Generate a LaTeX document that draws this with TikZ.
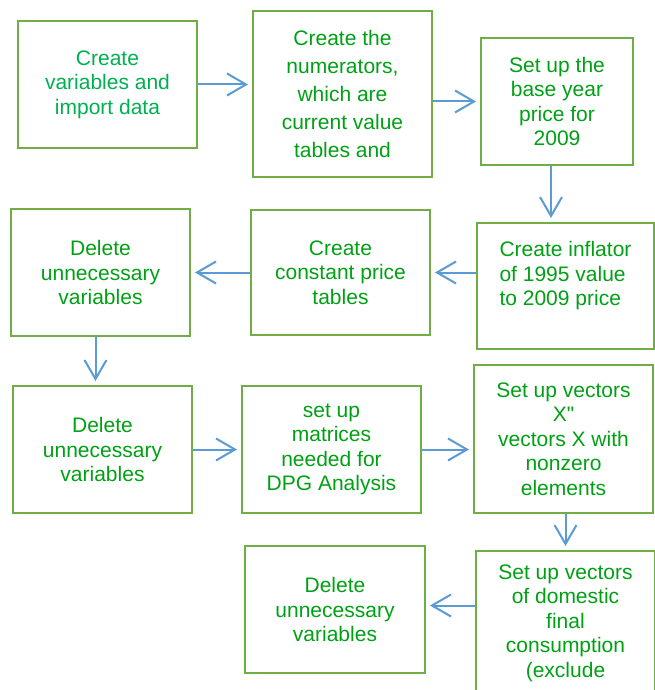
\documentclass[tikz,border=0pt]{standalone}
\usepackage{fontspec}
\setmainfont{Liberation Sans}[Ligatures=TeXOff]
\usetikzlibrary{positioning}
\usetikzlibrary{arrows.meta}

\definecolor{boxgreen}{RGB}{112,173,71}
\definecolor{textgreen}{RGB}{0,160,20}
\definecolor{firstgreen}{RGB}{0,176,80}
\definecolor{arrowblue}{RGB}{91,155,213}

\begin{document}
\begin{tikzpicture}[x=1pt, y=-1pt,
    every node/.style={draw=boxgreen, line width=2pt, anchor=north west, inner sep=0pt, align=center, text=textgreen, font=\fontsize{21}{24.5}\selectfont},
    flow/.style={draw=arrowblue, line width=2pt, -{Straight Barb[length=19pt,width=22pt]}, shorten >=4pt}]
        \useasboundingbox (0,0) rectangle (654,690);

        \node[minimum width=179pt, minimum height=127pt, text=firstgreen] (import) at (17,20) {Create\\variables and\\import data};
        \node[minimum width=179pt, minimum height=166pt, font=\fontsize{21}{28}\selectfont] (numer) at (252,10) {Create the\\numerators,\\which are\\current value\\tables and};
        \node[minimum width=152pt, minimum height=127pt] (base) at (480,37) {Set up the\\base year\\price for\\2009};
        \node[minimum width=177pt, minimum height=126pt, align=left] (inflator) at (476,222) {Create inflator\\of 1995 value\\to 2009 price\\~};
        \node[minimum width=179pt, minimum height=125pt] (constant) at (250,209) {Create\\constant price\\tables};
        \node[minimum width=179pt, minimum height=127pt] (delA) at (10,208) {Delete\\unnecessary\\variables};

        \node[minimum width=179pt, minimum height=127pt] (delB) at (12,385) {Delete\\unnecessary\\variables};
        \node[minimum width=179pt, minimum height=127pt] (matrices) at (241,385) {set up\\matrices\\needed for\\DPG Analysis};
        \node[minimum width=179pt, minimum height=148pt] (vecX) at (473,364) {Set up vectors\\X"\\vectors X with\\nonzero\\elements};
        \node[minimum width=179pt, minimum height=144pt] (final) at (475,550) {Set up vectors\\of domestic\\final\\consumption\\(exclude};
        \node[minimum width=180pt, minimum height=127pt] (delC) at (244,545) {Delete\\unnecessary\\variables};

        % top row, left to right
        \draw[flow] (import.east) -- (import.east -| numer.west);
        \draw[flow] (base.west -| numer.east) -- (base.west);
        \draw[flow] ([xshift=-6pt]base.south) -- ([xshift=-6pt]base.south |- inflator.north);

        % second row, right to left
        \draw[flow] (constant.east -| inflator.west) -- (constant.east);
        \draw[flow] (constant.west) -- (delA.east);
        \draw[flow] ([xshift=-5pt]delA.south) -- ([xshift=-5pt]delA.south |- delB.north);

        % third row and last
        \draw[flow] (delB.east) -- (delB.east -| matrices.west);
        \draw[flow] (matrices.east) -- (matrices.east -| vecX.west);
        \draw[flow] ([xshift=2pt]vecX.south) -- ([xshift=2pt]vecX.south |- final.north);
        \draw[flow] ([yshift=4pt]delC.east -| final.west) -- ([yshift=4pt]delC.east);
    \end{tikzpicture}
\end{document}
